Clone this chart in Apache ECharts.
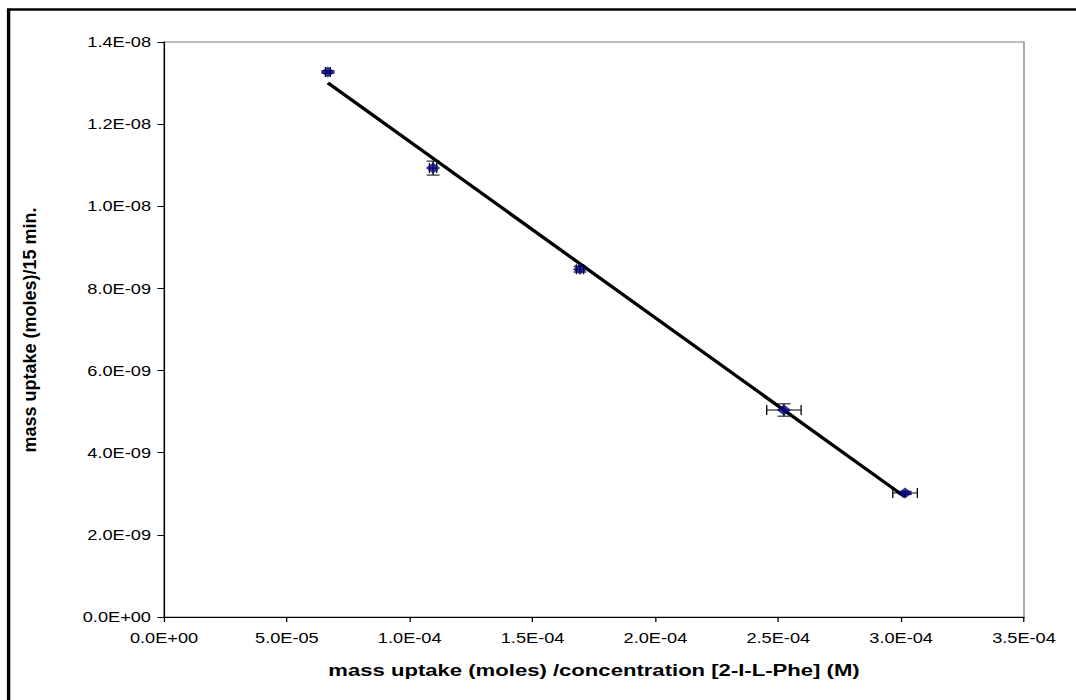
<!DOCTYPE html>
<html>
<head>
<meta charset="utf-8">
<script src="https://cdn.jsdelivr.net/npm/echarts@6/dist/echarts.min.js"></script>
<style>
  html, body { margin: 0; padding: 0; background: #fff; overflow: hidden; }
  #wrap { width: 1076px; height: 700px; overflow: hidden; }
  #chart { height: 700px; transform-origin: 0 0; }
</style>
</head>
<body>
<div id="wrap"><div id="chart"></div></div>
<script>
// Uptake ratio (x) vs. mass uptake per 15 min (y)
var uptakeRatio = [6.67e-5, 1.095e-4, 1.693e-4, 2.523e-4, 3.016e-4];
var massUptake  = [1.327e-8, 1.093e-8, 8.47e-9, 5.04e-9, 3.02e-9];
var ratioErr    = [1.0e-6, 1.5e-6, 1.5e-6, 7.0e-6, 5.0e-6];
var massErr     = [3.0e-11, 1.7e-10, 7.0e-11, 1.5e-10, 4.0e-11];

var xTitle = 'mass uptake (moles) /concentration [2-I-L-Phe] (M)';
var yTitle = 'mass uptake (moles)/15 min.';

function sciLabel(v) {
  var s = Number(v).toExponential(1).toUpperCase();   // e.g. 5.0E-5
  return s.replace(/E([+-])(\d)$/, 'E$10$2');          // -> 5.0E-05
}

// least-squares trend line through the measured points
function linearFit(xs, ys) {
  var n = xs.length, mx = 0, my = 0;
  for (var i = 0; i < n; i++) { mx += xs[i]; my += ys[i]; }
  mx /= n; my /= n;
  var sxy = 0, sxx = 0;
  for (var j = 0; j < n; j++) {
    sxy += (xs[j] - mx) * (ys[j] - my);
    sxx += (xs[j] - mx) * (xs[j] - mx);
  }
  var slope = sxy / sxx;
  return { slope: slope, intercept: my - slope * mx };
}
var fit = linearFit(uptakeRatio, massUptake);
var xLo = Math.min.apply(null, uptakeRatio), xHi = Math.max.apply(null, uptakeRatio);
var trend = [[xLo, fit.intercept + fit.slope * xLo], [xHi, fit.intercept + fit.slope * xHi]];

var points = uptakeRatio.map(function (x, i) { return [x, massUptake[i]]; });
var bars = uptakeRatio.map(function (x, i) { return [x, massUptake[i], ratioErr[i], massErr[i]]; });

// the sheet is laid out on a narrower canvas and widened horizontally
var stretch = 1.3;
var el = document.getElementById('chart');
var innerW = 1076 / stretch;
el.style.width = innerW + 'px';
el.style.transform = 'scaleX(' + stretch + ')';

var chart = echarts.init(el, null, { renderer: 'svg', width: innerW, height: 700 });
var font = 'Liberation Sans, Arial, sans-serif';
var cap = 5;

chart.setOption({
  animation: false,
  backgroundColor: '#fff',
  graphic: [{
    type: 'rect',
    shape: { x: 6.6, y: 9.5, width: 1200, height: 900 },
    style: { fill: 'none', stroke: '#000', lineWidth: 2.6 },
    silent: true
  }, {
    // vertical axis title, kept at normal proportions after widening
    type: 'text',
    x: 30 / stretch, y: 330,
    rotation: Math.PI / 2,
    scaleY: 1 / stretch,
    style: {
      text: yTitle, fill: '#000',
      font: 'bold 18px ' + font,
      textAlign: 'center', textVerticalAlign: 'middle'
    },
    silent: true
  }],
  grid: { left: 164 / stretch, top: 42, right: 52 / stretch, bottom: 83, show: true,
          borderColor: '#808080', borderWidth: 1, backgroundColor: 'transparent' },
  xAxis: {
    type: 'value', min: 0, max: 3.5e-4, interval: 5e-5,
    name: xTitle, nameLocation: 'middle', nameGap: 44,
    nameTextStyle: { fontFamily: font, fontSize: 17, fontWeight: 'bold', color: '#000' },
    axisLine: { show: true, lineStyle: { color: '#000', width: 1 } },
    axisTick: { show: true, length: 5, lineStyle: { color: '#000' } },
    axisLabel: { formatter: sciLabel, fontFamily: font, fontSize: 14, color: '#000', margin: 14 },
    splitLine: { show: false }
  },
  yAxis: {
    type: 'value', min: 0, max: 1.4e-8, interval: 2e-9,
    axisLine: { show: true, lineStyle: { color: '#000', width: 1 } },
    axisTick: { show: true, length: 5, lineStyle: { color: '#000' } },
    axisLabel: { formatter: sciLabel, fontFamily: font, fontSize: 14, color: '#000', margin: 10 },
    splitLine: { show: false }
  },
  series: [
    {
      type: 'line', data: trend, symbol: 'none', silent: true, z: 3,
      lineStyle: { color: '#000', width: 3 }
    },
    {
      type: 'custom', data: bars, z: 4, silent: true,
      renderItem: function (params, api) {
        var x = api.value(0), y = api.value(1), ex = api.value(2), ey = api.value(3);
        var c = api.coord([x, y]);
        var l = api.coord([x - ex, y]), r = api.coord([x + ex, y]);
        var t = api.coord([x, y + ey]), b = api.coord([x, y - ey]);
        var st = { stroke: '#000', lineWidth: 1 };
        var seg = function (x1, y1, x2, y2) {
          return { type: 'line', shape: { x1: x1, y1: y1, x2: x2, y2: y2 }, style: st };
        };
        return { type: 'group', children: [
          seg(l[0], c[1], r[0], c[1]),
          seg(l[0], c[1] - cap, l[0], c[1] + cap),
          seg(r[0], c[1] - cap, r[0], c[1] + cap),
          seg(c[0], t[1], c[0], b[1]),
          seg(c[0] - cap, t[1], c[0] + cap, t[1]),
          seg(c[0] - cap, b[1], c[0] + cap, b[1])
        ] };
      }
    },
    {
      type: 'scatter', data: points, symbol: 'diamond', symbolSize: 11, z: 5,
      itemStyle: { color: '#000080' }
    }
  ]
});
</script>
</body>
</html>
